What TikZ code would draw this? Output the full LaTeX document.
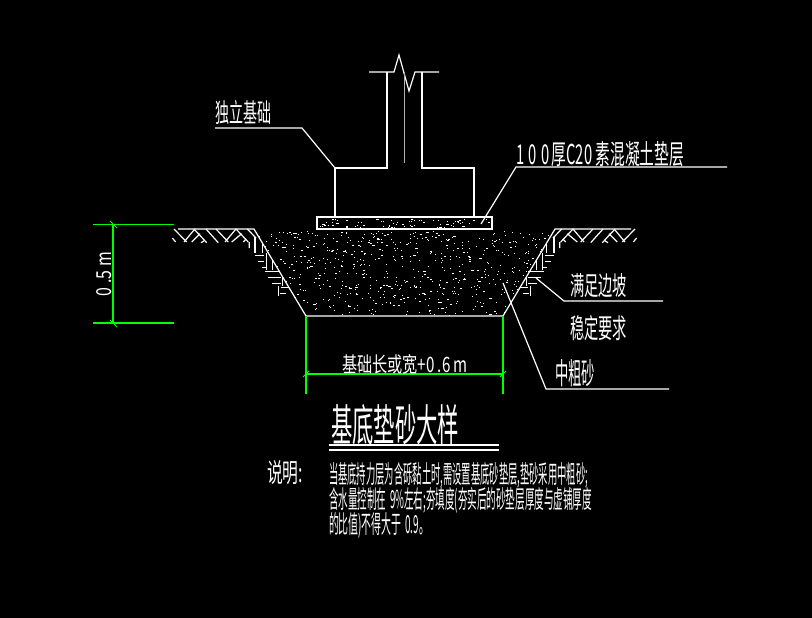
\documentclass[tikz,border=0pt]{standalone}
\usepackage{graphicx}
\usepackage{fontspec}
\setmainfont{Noto Sans CJK SC}
\usetikzlibrary{calc}
\newcommand{\fitbox}[3]{\resizebox{#1pt}{#2pt}{#3}}
\newcommand{\hatchset}{%
  \draw[cadline] (174,229)--(186.7,242)(172.3,238)--(175.7,242)(184,242)--(194,230)
    (194,229)--(206.7,242.7)(191.7,242)--(200,233.7)(201,242.7)--(205,240.3)
    (206,229)--(218.3,242.7)(216,229)--(228.3,242)(225,242)--(236,229)
    (236,229)--(248.3,242)(231.7,242)--(241.7,233.7)(243.3,242)--(246,239.3)
    (247.3,229)--(256,238)(249.3,242)--(249.3,248);
  \draw[cadline] (255,237)--(255,252.7)(262.7,243)--(262.7,252.7)
    (255,255.3)--(264,255.3)(258,261.3)--(264,261.3)(262,267.3)--(266,267.3)
    (266.7,252.7)--(266.7,270.3)(272.3,258.7)--(272.3,270.3)
    (265,271.3)--(279.3,271.3)(268.3,277.3)--(280.7,277.3)(272,283.3)--(280.7,283.3)
    (282.3,277)--(282.3,286)(281,287.3)--(289,287.3)
    (278.3,286)--(278.3,296)(280.3,293.3)--(286,293.3);
}
\definecolor{cadgreen}{RGB}{0,255,0}
\tikzset{
  cadline/.style={draw=white,line width=1.2pt},
  grn/.style={draw=cadgreen,line width=1.3pt},
  grntick/.style={draw=cadgreen,line width=1pt},
  cadtext/.style={text=white,inner sep=0pt,outer sep=0pt,anchor=north west},
}
\begin{document}
\begin{tikzpicture}[x=1pt,y=-1pt]
\fill[black] (0,0) rectangle (812,618);
\useasboundingbox (0,0) rectangle (812,618);
% sand
\pgfmathsetseed{4127}
\begin{scope}
  \clip (256,231)--(553,231)--(503,316)--(306,316)--cycle;
  \foreach \i in {1,...,680}{
    \pgfmathsetmacro{\px}{255+rnd*300}
    \pgfmathsetmacro{\py}{231+rnd*85}
    \pgfmathsetmacro{\pl}{rnd<0.25?2.2:1}
    \fill[white] (\px,\py) rectangle ++(\pl,1);
  }
\end{scope}
\foreach \i in {1,...,75}{
  \pgfmathsetmacro{\px}{319+rnd*171}
  \pgfmathsetmacro{\py}{219+rnd*8.5}
  \pgfmathsetmacro{\pl}{rnd<0.25?2.2:1}
  \fill[white] (\px,\py) rectangle ++(\pl,1);
}
% column and footing
\coordinate (stemL) at (387,168);
\coordinate (stemR) at (422,168);
\coordinate (footTL) at (335,168);
\coordinate (footTR) at (474,168);
\coordinate (footBL) at (335,217);
\coordinate (footBR) at (474,217);
\draw[cadline] (footBL)--(footTL)--(stemL)--(387,72);
\draw[cadline] (footBR)--(footTR)--(stemR)--(422,72);
\draw[cadline,line join=miter] (369,72)--(394,72)--(399,55)--(409,91)--(415,72)--(439,72);
\draw[draw=white!70!black,line width=1pt] (404,72)--(404,163);
\draw[cadline] (317,217) rectangle (492,229);
% pit and ground
\coordinate (pitTL) at (254,229);
\coordinate (pitBL) at (306,316);
\coordinate (pitBR) at (503,316);
\coordinate (pitTR) at (555,229);
\draw[cadline] (178,229)--(pitTL)--(pitBL)--(pitBR)--(pitTR)--(631,229);
\hatchset
\begin{scope}[xshift=809pt,xscale=-1]
  \hatchset
\end{scope}
% green dimensions
\draw[grn] (93,224.3)--(174,224.3) (93,323)--(174,323) (113,224.3)--(113,323);
\draw[grntick] (110,221)--(117,228) (110,320)--(117,327);
\draw[grn] (306,316)--(306,394) (503,316)--(503,394) (306,374)--(503,374);
\draw[grntick] (303,377)--(309,371) (500,377)--(506,371);
% leaders
\coordinate (ldA0) at (215,128); \coordinate (ldA1) at (302,128);
\draw[cadline] (ldA0)--(ldA1)--(footTL);
\coordinate (ldB0) at (481,224); \coordinate (ldB1) at (516,167); \coordinate (ldB2) at (727,167);
\draw[cadline] (ldB0)--(ldB1)--(ldB2);
\coordinate (ldC0) at (536,278); \coordinate (ldC1) at (564,301); \coordinate (ldC2) at (663,301);
\draw[cadline] (ldC0)--(ldC1)--(ldC2);
\coordinate (ldD0) at (503,283); \coordinate (ldD1) at (546,389); \coordinate (ldD2) at (669,389);
\draw[cadline] (ldD0)--(ldD1)--(ldD2);
% title rules
\coordinate (ruA0) at (329,445); \coordinate (ruA1) at (499,445);
\coordinate (ruB0) at (329,450); \coordinate (ruB1) at (499,450);
\draw[cadline] (ruA0)--(ruA1) (ruB0)--(ruB1);
% texts
\node[cadtext] (tFound) at (215,100) {\fitbox{56}{22}{独立基础}};
\node[cadtext] (tPad) at (516,141) {\fitbox{168}{23}{1\hspace{.3em}0\hspace{.3em}0\,厚C20 素混凝土垫层}};
\node[cadtext,anchor=center,rotate=90] (tDim) at (104,274) {\fitbox{44}{15}{0 .5 m}};
\node[cadtext] (tWidth) at (342,354) {\fitbox{126}{18}{基础长或宽+0 .6 m}};
\node[cadtext] (tSlopeA) at (570,273) {\fitbox{57}{22}{满足边坡}};
\node[cadtext] (tSlopeB) at (570,315) {\fitbox{57}{23}{稳定要求}};
\node[cadtext] (tSand) at (555,359) {\fitbox{40}{25}{中粗砂}};
\node[cadtext] (tTitle) at (331,404) {\fitbox{128}{37}{基底垫砂大样}};
\node[cadtext] (tNote) at (267,460) {\fitbox{36}{22}{说明:}};
\node[cadtext] (tLineA) at (329,462) {\fitbox{259}{21}{当基底持力层为含砾黏土时,需设置基底砂垫层,垫砂采用中粗砂;}};
\node[cadtext] (tLineB) at (329,487) {\fitbox{263}{21}{含水量控制在 \,9\%左右;夯填度(夯实后的砂垫层厚度与虚铺厚度}};
\node[cadtext] (tLineC) at (329,512) {\fitbox{100}{21}{的比值)不得大于 \,0.9。}};
\end{tikzpicture}
\end{document}
